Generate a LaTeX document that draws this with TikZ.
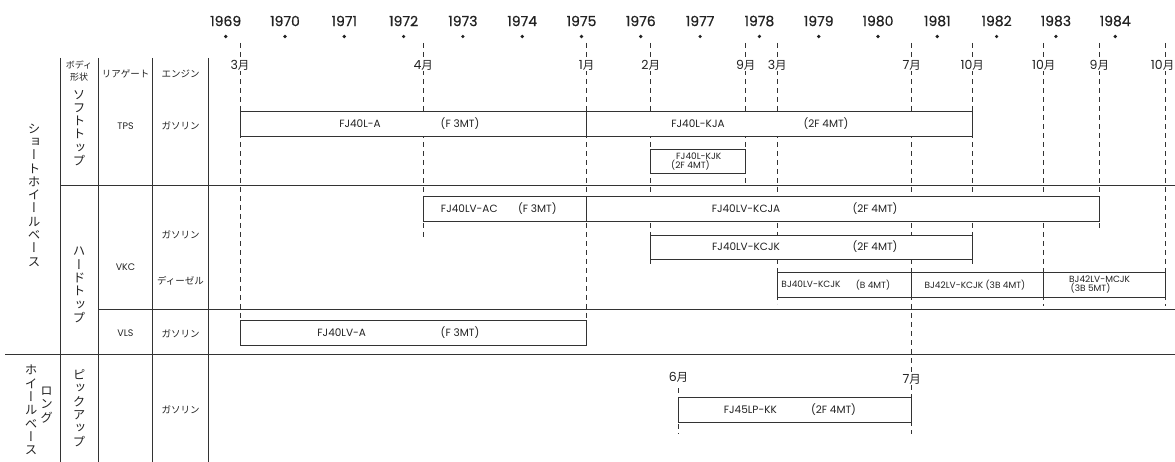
\documentclass[tikz,border=0pt]{standalone}
\usepackage{fontspec}
\setmainfont{Poppins}
\newfontfamily\jp{Noto Sans CJK JP}
\newfontfamily\jpv{Noto Sans CJK JP}[RawFeature=+vert]
\newfontfamily\yrfont{Poppins}[FakeBold=0.6]
\definecolor{ln}{HTML}{333333}
\definecolor{tx}{HTML}{222222}
\begin{document}
\begin{tikzpicture}[x=1pt,y=-1pt,
  grid/.style={draw=ln, line width=0.9pt},
  guide/.style={draw=ln, line width=0.8pt, dash pattern=on 5pt off 4pt},
  bar/.style={draw=ln, fill=white, line width=0.9pt},
  lbl/.style={text=tx, font=\fontsize{10.5}{12}\selectfont, inner sep=0pt},
  sm/.style={text=tx, font=\fontsize{9}{8.8}\selectfont, inner sep=0pt, align=left},
  cell/.style={text=tx, font=\jp\fontsize{9.5}{12.5}\selectfont, inner sep=0pt, align=center},
  cellL/.style={text=tx, font=\fontsize{9.5}{11}\selectfont, inner sep=0pt},
  vt/.style={text=tx, font=\jpv\fontsize{12.5}{13.3}\selectfont, align=center, inner sep=0pt},
  yearlbl/.style={text=tx, font=\yrfont\fontsize{14}{16}\selectfont, inner sep=0pt},
  yeardot/.style={circle, fill=tx, inner sep=1.3pt},
  mon/.style={text=tx, font=\fontsize{12.5}{13}\selectfont, fill=white, inner sep=1pt},
]
\useasboundingbox (0,0) rectangle (1175,462);

% years
\foreach \i in {0,...,15}{
  \pgfmathsetmacro\xx{225.7+59.3*\i}
  \pgfmathtruncatemacro\yy{1969+\i}
  \node[yearlbl] (y\yy) at (\xx,21) {\yy};
  \node[yeardot] (d\yy) at (\xx,36.5) {};
}

% dashed month guides
\foreach \x/\yb/\m [count=\i] in {240/347/3, 423.3/237/4, 586.7/347/1, 650.7/267/2, 745.7/184/9, 777.3/304/3, 911.7/434/7, 972.3/266/10, 1043.7/306/10, 1099.3/230/9}{
  \coordinate (gt\i) at (\x,43);
  \coordinate (gb\i) at (\x,\yb);
  \draw[guide] (gt\i) -- (gb\i);
  \node[mon] (m\i) at (\x,65) {\m{\jp\fontsize{11.5}{12}\selectfont 月}};
}
\coordinate (gt11) at (1165.7,43);
\coordinate (gb11) at (1165.7,306);
\draw[guide] (gt11) -- (gb11);
\node[mon, anchor=east, inner sep=0.5pt] (m11) at (1175,65) {10{\jp\fontsize{11.5}{12}\selectfont 月}};

% pickup guide
\coordinate (pt) at (678.5,388);
\coordinate (pb) at (678.5,434);
\draw[guide] (pt) -- (pb);

% table lines
\foreach \x [count=\i] in {60,98.3,152.7,208.3}{
  \coordinate (vt\i) at (\x,58);
  \coordinate (vb\i) at (\x,462);
  \draw[grid] (vt\i) -- (vb\i);
}
\coordinate (h1a) at (60,185);   \coordinate (h1b) at (1175,185);
\coordinate (h2a) at (98.3,309.5); \coordinate (h2b) at (1175,309.5);
\coordinate (h3a) at (5,354);    \coordinate (h3b) at (1175,354);
\draw[grid] (h1a) -- (h1b);
\draw[grid] (h2a) -- (h2b);
\draw[grid] (h3a) -- (h3b);

% soft top bars
\draw[bar] (240,111.7) rectangle (972.3,136);
\draw[grid] (586.7,111.7) -- (586.7,136);
\node[lbl] (t1) at (360,124) {FJ40L-A};
\node[lbl] (t2) at (460,124) {(F 3MT)};
\node[lbl] (t3) at (698,124) {FJ40L-KJA};
\node[lbl] (t4) at (826,124) {(2F 4MT)};

\draw[bar] (650.7,149) rectangle (745.7,173.3);
\node[sm, anchor=west] (t5) at (671,161.2) {\hspace{5pt}FJ40L-KJK\\(2F 4MT)};

% hard top bars
\draw[bar] (423.3,196.7) rectangle (1099.3,221.7);
\draw[grid] (586.7,196.7) -- (586.7,221.7);
\node[lbl] (t6) at (469.3,209) {FJ40LV-AC};
\node[lbl] (t7) at (537.3,209) {(F 3MT)};
\node[lbl] (t8) at (746,209) {FJ40LV-KCJA};
\node[lbl] (t9) at (875,209) {(2F 4MT)};

\draw[bar] (650.7,235) rectangle (972.3,259.3);
\node[lbl] (t10) at (746,247) {FJ40LV-KCJK};
\node[lbl] (t11) at (875,247) {(2F 4MT)};

\draw[bar] (777.3,272.3) rectangle (1165.7,297);
\draw[grid] (911.7,272.3) -- (911.7,297);
\draw[grid] (1043.7,272.3) -- (1043.7,297);
\node[sm] (t12) at (811,284.7) {BJ40LV-KCJK};
\node[sm] (t13) at (873,284.7) {(B 4MT)};
\node[sm] (t14) at (975,284.7) {BJ42LV-KCJK (3B 4MT)};
\node[sm, anchor=west] (t15) at (1069,284.5) {BJ42LV-MCJK\\\hspace{1.5pt}(3B 5MT)};

\draw[bar] (240.7,320) rectangle (586.7,345);
\node[lbl] (t16) at (341.7,333) {FJ40LV-A};
\node[lbl] (t17) at (460,333) {(F 3MT)};

% pickup
\node[mon] (m6) at (678.5,377) {6{\jp\fontsize{11.5}{12}\selectfont 月}};
\node[mon] (m7) at (911.7,379) {7{\jp\fontsize{11.5}{12}\selectfont 月}};
\draw[bar] (678.5,397.7) rectangle (911.7,422.7);
\node[lbl] (t18) at (750.4,410) {FJ45LP-KK};
\node[lbl] (t19) at (833.5,410) {(2F 4MT)};

% table header and cells
\node[cell, font=\jp\fontsize{9}{12.5}\selectfont] (hb) at (79,71) {ボディ\\形状};
\node[cell] (hr) at (125.5,74) {リアゲート};
\node[cell] (he) at (180.5,74) {エンジン};
\node[cellL] (c1) at (125.5,126) {TPS};
\node[cell] (c2) at (180.5,126) {ガソリン};
\node[cellL] (c3) at (125.5,266.7) {VKC};
\node[cell] (c4) at (180.5,235) {ガソリン};
\node[cell] (c5) at (180.5,281) {ディーゼル};
\node[cellL] (c6) at (125.5,333.3) {VLS};
\node[cell] (c7) at (180.5,333.3) {ガソリン};
\node[cell] (c8) at (180.5,410) {ガソリン};

% vertical labels
\node[vt] (v1) at (34,195) {シ\\ョ\\ー\\ト\\ホ\\イ\\ー\\ル\\ベ\\ー\\ス};
\node[vt] (v2) at (79,128) {ソ\\フ\\ト\\ト\\ッ\\プ};
\node[vt] (v3) at (79,285) {ハ\\ー\\ド\\ト\\ッ\\プ};
\node[vt] (v4) at (79,408) {ピ\\ッ\\ク\\ア\\ッ\\プ};
\node[vt] (v5) at (46.7,405) {ロ\\ン\\グ};
\node[vt] (v6) at (31,410) {ホ\\イ\\ー\\ル\\ベ\\ー\\ス};
\end{tikzpicture}
\end{document}
